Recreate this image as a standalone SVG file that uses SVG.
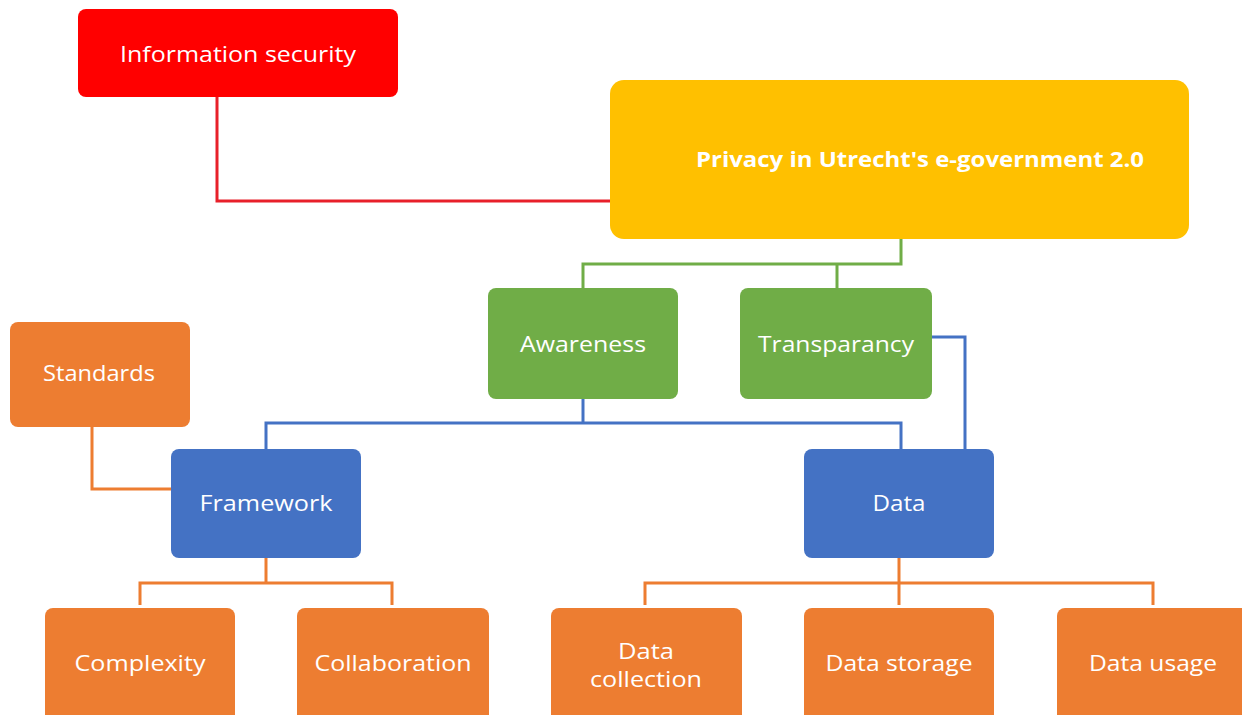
<svg xmlns="http://www.w3.org/2000/svg" width="1242" height="715" viewBox="0 0 1242 715">
  <style>
    .box { stroke: none; }
    .red { fill: #FF0000; }
    .yellow { fill: #FFC000; }
    .green { fill: #70AD47; }
    .blue { fill: #4472C4; }
    .orange { fill: #ED7D31; }
    .lbl { fill: #FFFFFF; font-family: "Open Sans", "Noto Sans", sans-serif; font-size: 22px; text-anchor: middle; dominant-baseline: central; }
    .bold { font-weight: bold; }
    .wire { fill: none; stroke-width: 3; }
    .w-red { stroke: #E8202A; }
    .w-green { stroke: #70AD47; }
    .w-blue { stroke: #4472C4; }
    .w-orange { stroke: #ED7D31; }
  </style>

  <!-- connectors -->
  <g id="connectors">
    <polyline class="wire w-red" points="217,97 217,201 612,201"/>
    <polyline class="wire w-green" points="901,239 901,264 583,264 583,288"/>
    <line class="wire w-green" x1="837" y1="264" x2="837" y2="288"/>
    <line class="wire w-blue" x1="583" y1="399" x2="583" y2="423"/>
    <polyline class="wire w-blue" points="266,449 266,423 901,423 901,449"/>
    <polyline class="wire w-blue" points="932,337 965,337 965,449"/>
    <polyline class="wire w-orange" points="92,427 92,489 171,489"/>
    <line class="wire w-orange" x1="266" y1="558" x2="266" y2="583"/>
    <polyline class="wire w-orange" points="140,605 140,583 392,583 392,605"/>
    <line class="wire w-orange" x1="899" y1="558" x2="899" y2="605"/>
    <polyline class="wire w-orange" points="645,605 645,583 1153,583 1153,605"/>
  </g>

  <g id="info-security">
    <rect class="box red" x="78" y="9" width="320" height="88" rx="8"/>
    <text class="lbl" x="238" y="53" textLength="236" lengthAdjust="spacingAndGlyphs">Information security</text>
  </g>

  <g id="privacy">
    <rect class="box yellow" x="610" y="80" width="579" height="159" rx="14"/>
    <text class="lbl bold" x="920" y="158" textLength="448" lengthAdjust="spacingAndGlyphs">Privacy in Utrecht's e-government 2.0</text>
  </g>

  <g id="awareness">
    <rect class="box green" x="488" y="288" width="190" height="111" rx="8"/>
    <text class="lbl" x="583" y="343" textLength="126" lengthAdjust="spacingAndGlyphs">Awareness</text>
  </g>

  <g id="transparancy">
    <rect class="box green" x="740" y="288" width="192" height="111" rx="8"/>
    <text class="lbl" x="836" y="343" textLength="156" lengthAdjust="spacingAndGlyphs">Transparancy</text>
  </g>

  <g id="standards">
    <rect class="box orange" x="10" y="322" width="180" height="105" rx="8"/>
    <text class="lbl" x="99" y="372" textLength="112" lengthAdjust="spacingAndGlyphs">Standards</text>
  </g>

  <g id="framework">
    <rect class="box blue" x="171" y="449" width="190" height="109" rx="8"/>
    <text class="lbl" x="266" y="502" textLength="133" lengthAdjust="spacingAndGlyphs">Framework</text>
  </g>

  <g id="data">
    <rect class="box blue" x="804" y="449" width="190" height="109" rx="8"/>
    <text class="lbl" x="899" y="502" textLength="53" lengthAdjust="spacingAndGlyphs">Data</text>
  </g>

  <g id="complexity">
    <rect class="box orange" x="45" y="608" width="190" height="115" rx="8"/>
    <text class="lbl" x="140" y="662" textLength="131" lengthAdjust="spacingAndGlyphs">Complexity</text>
  </g>

  <g id="collaboration">
    <rect class="box orange" x="297" y="608" width="192" height="115" rx="8"/>
    <text class="lbl" x="393" y="662" textLength="157" lengthAdjust="spacingAndGlyphs">Collaboration</text>
  </g>

  <g id="data-collection">
    <rect class="box orange" x="551" y="608" width="191" height="115" rx="8"/>
    <text class="lbl" x="646" y="650" textLength="56" lengthAdjust="spacingAndGlyphs">Data</text>
    <text class="lbl" x="646" y="678" textLength="112" lengthAdjust="spacingAndGlyphs">collection</text>
  </g>

  <g id="data-storage">
    <rect class="box orange" x="804" y="608" width="190" height="115" rx="8"/>
    <text class="lbl" x="899" y="662" textLength="147" lengthAdjust="spacingAndGlyphs">Data storage</text>
  </g>

  <g id="data-usage">
    <rect class="box orange" x="1057" y="608" width="195" height="115" rx="8"/>
    <text class="lbl" x="1153" y="662" textLength="128" lengthAdjust="spacingAndGlyphs">Data usage</text>
  </g>
</svg>
